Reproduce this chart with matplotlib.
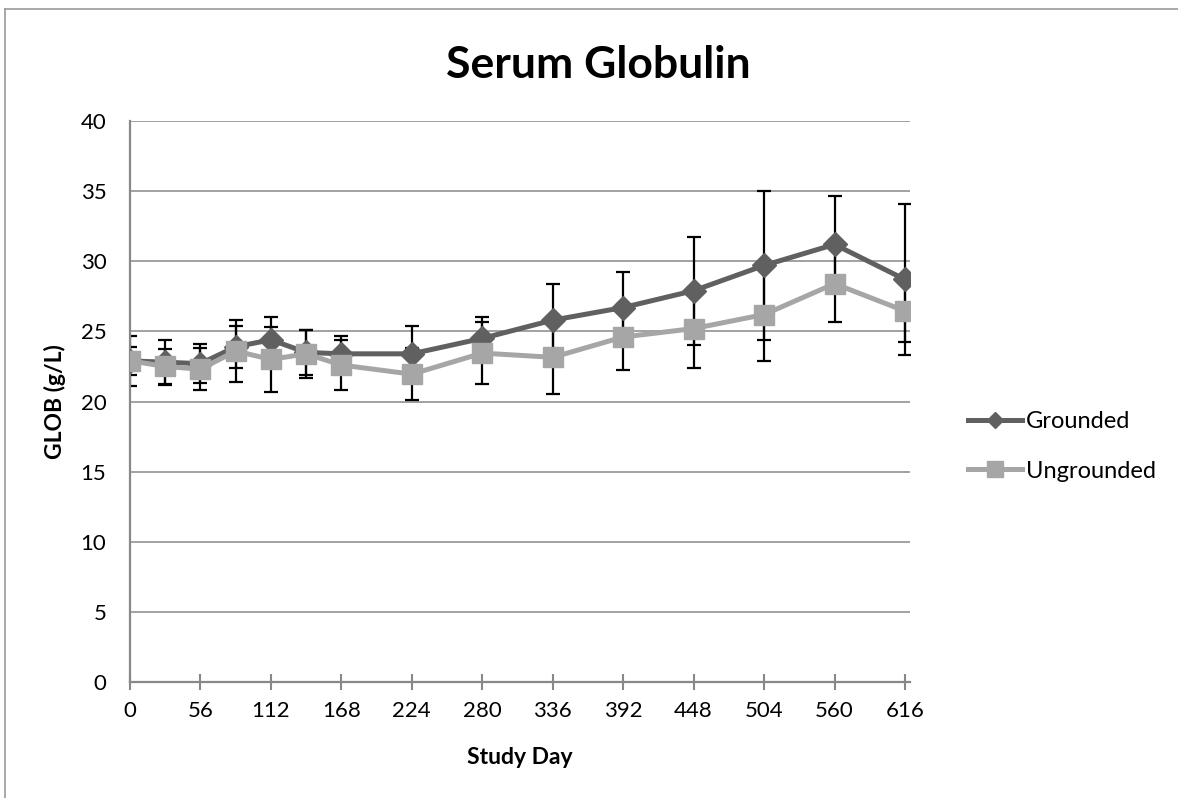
import matplotlib.pyplot as plt
from matplotlib.lines import Line2D

plt.rcParams['font.family'] = ['Lato', 'DejaVu Sans']

# Sampling days and serum globulin (g/L), mean and SD per group
days = [0, 28, 56, 84, 112, 140, 168, 224, 280, 336, 392, 448, 504, 560, 616]
grounded = [22.9, 22.8, 22.7, 23.9, 24.4, 23.5, 23.4, 23.4, 24.5, 25.8, 26.7, 27.9, 29.7, 31.2, 28.7]
grounded_sd = [1.8, 1.6, 1.4, 1.5, 1.6, 1.6, 1.3, 2.0, 1.55, 2.6, 2.55, 3.85, 5.3, 3.45, 5.35]
ungrounded = [22.9, 22.5, 22.3, 23.6, 23.0, 23.4, 22.6, 21.95, 23.45, 23.15, 24.6, 25.2, 26.2, 28.4, 26.45]
ungrounded_sd = [1.0, 1.25, 1.5, 2.2, 2.3, 1.7, 1.75, 1.85, 2.2, 2.6, 2.35, 2.8, 3.3, 2.7, 2.2]

x_ticks = list(range(0, 617, 56))
y_ticks = list(range(0, 41, 5))

dark = '#606060'
light = '#a6a6a6'
axis_grey = '#888888'

fig = plt.figure(figsize=(11.78, 7.98), dpi=100)
ax = fig.add_axes([130 / 1178, 1 - 682 / 798, 780 / 1178, 561 / 798])

# error bars first so the markers sit on top of them
ax.errorbar(days, grounded, yerr=grounded_sd, fmt='none', ecolor='black',
            elinewidth=1.6, capsize=5, capthick=1.6, zorder=2)
ax.errorbar(days, ungrounded, yerr=ungrounded_sd, fmt='none', ecolor='black',
            elinewidth=1.6, capsize=5, capthick=1.6, zorder=2)

ax.plot(days, grounded, color=dark, lw=3.6, marker='D', ms=12,
        mec=dark, mfc=dark, label='Grounded', zorder=3)
ax.plot(days, ungrounded, color=light, lw=3.6, marker='s', ms=14.5,
        mec=light, mfc=light, label='Ungrounded', zorder=4)

ax.set_xlim(0, 620)
ax.set_ylim(0, 40)
ax.set_xticks(x_ticks)
ax.set_yticks(y_ticks)

ax.yaxis.grid(True, color=axis_grey, lw=1.1)
ax.set_axisbelow(True)

for side in ['top', 'right']:
    ax.spines[side].set_visible(False)
for side in ['left', 'bottom']:
    ax.spines[side].set_color(axis_grey)
    ax.spines[side].set_linewidth(1.6)

ax.tick_params(axis='x', direction='inout', length=12, width=1.5,
               color=axis_grey, labelsize=16, pad=8)
ax.tick_params(axis='y', length=0, labelsize=16, pad=17)

ax.set_xlabel('Study Day', fontsize=16.5, fontweight='bold')
ax.xaxis.label.set_verticalalignment('center')
ax.xaxis.set_label_coords((520 - 130) / 780, (682 - 757) / 561)
ax.set_ylabel('GLOB (g/L)', fontsize=16.5, fontweight='bold')
ax.yaxis.label.set_verticalalignment('center')
ax.yaxis.set_label_coords((55 - 130) / 780, 0.5)

fig.text(598 / 1178, 1 - 65 / 798, 'Serum Globulin', fontsize=32,
         fontweight='bold', ha='center', va='center')

leg_handles = [
    Line2D([], [], color=dark, lw=3.6, marker='D', ms=8, mfc=dark, mec=dark),
    Line2D([], [], color=light, lw=3.6, marker='s', ms=12, mfc=light, mec=light),
]
ax.legend(leg_handles, ['Grounded', 'Ungrounded'], loc='center left',
          bbox_to_anchor=(968 / 1178, 1 - 446.5 / 798),
          bbox_transform=fig.transFigure, frameon=False, fontsize=17,
          borderpad=0, borderaxespad=0, handlelength=2.3, handletextpad=0.15,
          labelspacing=1.2)

# chart area outline (only the top and left edges fall inside the image)
fig.add_artist(Line2D([5 / 1178, 5 / 1178], [0, 1 - 9 / 798],
                      transform=fig.transFigure, color='#999999', lw=1.2))
fig.add_artist(Line2D([5 / 1178, 1], [1 - 9 / 798, 1 - 9 / 798],
                      transform=fig.transFigure, color='#999999', lw=1.2))

fig.savefig('out.png', dpi=100)
